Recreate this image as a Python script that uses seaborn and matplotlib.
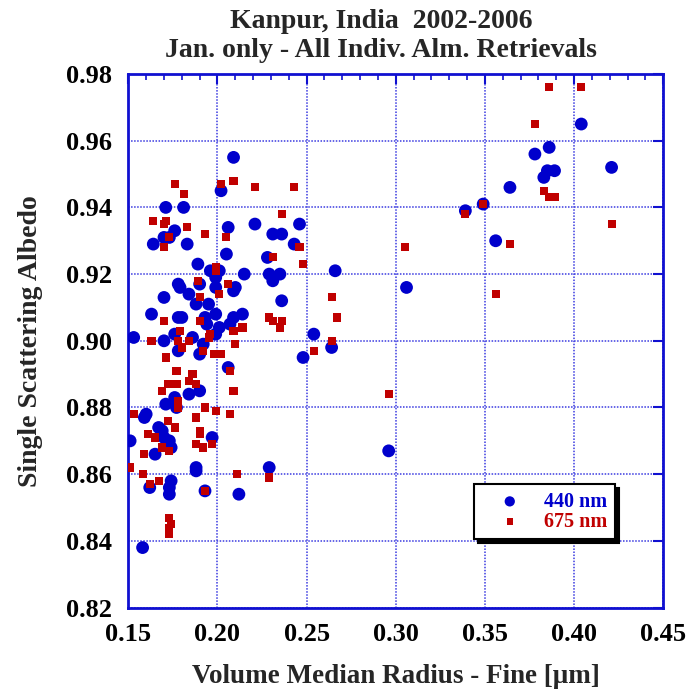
import matplotlib
matplotlib.use("Agg")
import matplotlib.pyplot as plt
import seaborn as sns
import pandas as pd
from matplotlib.ticker import MultipleLocator, FormatStrFormatter

# ---- data ----
blue_x = [0.404,0.386,0.378,0.421,0.385,0.389,0.383,0.364,0.349,0.339,0.356,0.266,0.306,0.236,0.254,0.264,
          0.248,0.296,0.246,0.236,0.243,0.209,0.202,0.171,0.181,0.176,0.206,0.221,0.231,0.170,0.173,0.164,
          0.183,0.205,0.228,0.189,0.196,0.201,0.215,0.229,0.235,0.231,0.178,0.179,0.190,0.199,0.199,0.210,
          0.209,0.184,0.170,0.188,0.195,0.163,0.178,0.180,0.193,0.199,0.214,0.209,0.194,0.201,0.207,0.176,
          0.199,0.186,0.153,0.170,0.192,0.178,0.190,0.206,0.184,0.190,0.176,0.171,0.177,0.160,0.159,0.167,
          0.169,0.151,0.197,0.170,0.173,0.172,0.174,0.165,0.229,0.188,0.188,0.174,0.162,0.173,0.193,0.212,
          0.173,0.158]
blue_y = [0.965,0.958,0.956,0.952,0.951,0.951,0.949,0.946,0.941,0.939,0.930,0.921,0.916,0.912,0.902,0.898,
          0.895,0.867,0.935,0.932,0.929,0.955,0.945,0.940,0.940,0.933,0.934,0.935,0.932,0.931,0.931,0.929,
          0.929,0.926,0.925,0.923,0.921,0.921,0.920,0.920,0.920,0.918,0.917,0.916,0.917,0.919,0.916,0.916,
          0.915,0.914,0.913,0.911,0.911,0.908,0.907,0.907,0.907,0.908,0.908,0.907,0.905,0.904,0.905,0.902,
          0.902,0.901,0.901,0.900,0.899,0.897,0.896,0.892,0.884,0.885,0.883,0.881,0.880,0.878,0.877,0.874,
          0.873,0.870,0.871,0.871,0.870,0.870,0.868,0.866,0.862,0.862,0.861,0.858,0.856,0.856,0.855,0.854,
          0.854,0.838]
red_x = [0.386,0.404,0.378,0.383,0.386,0.389,0.349,0.339,0.421,0.364,0.356,0.248,0.264,0.267,0.236,0.264,
         0.254,0.296,0.243,0.236,0.246,0.305,0.176,0.202,0.209,0.221,0.181,0.164,0.171,0.170,0.183,0.193,
         0.173,0.205,0.170,0.231,0.199,0.199,0.189,0.206,0.190,0.201,0.170,0.190,0.229,0.231,0.235,0.179,
         0.209,0.214,0.196,0.195,0.184,0.163,0.178,0.180,0.210,0.192,0.198,0.202,0.171,0.207,0.177,0.186,
         0.184,0.172,0.177,0.188,0.169,0.209,0.178,0.178,0.193,0.199,0.207,0.153,0.188,0.172,0.176,0.190,
         0.190,0.161,0.165,0.188,0.197,0.192,0.169,0.173,0.159,0.151,0.211,0.158,0.229,0.167,0.162,0.193,
         0.173,0.174,0.173,0.173]
red_y = [0.976,0.976,0.965,0.945,0.943,0.943,0.941,0.938,0.935,0.929,0.914,0.923,0.913,0.907,0.906,0.900,
         0.897,0.884,0.946,0.938,0.928,0.928,0.947,0.947,0.948,0.946,0.944,0.936,0.936,0.935,0.934,0.932,
         0.931,0.931,0.928,0.925,0.922,0.921,0.918,0.917,0.913,0.914,0.906,0.906,0.907,0.906,0.904,0.903,
         0.903,0.904,0.902,0.901,0.900,0.900,0.900,0.898,0.899,0.897,0.896,0.896,0.895,0.891,0.891,0.890,
         0.888,0.887,0.887,0.887,0.885,0.885,0.882,0.880,0.880,0.879,0.878,0.878,0.877,0.876,0.874,0.873,
         0.872,0.872,0.871,0.869,0.869,0.868,0.868,0.867,0.866,0.862,0.860,0.860,0.859,0.858,0.857,0.855,
         0.847,0.845,0.844,0.842]
series_labels = ["440 nm", "675 nm"]
title_lines = ["Kanpur, India  2002-2006", "Jan. only - All Indiv. Alm. Retrievals"]
x_label = "Volume Median Radius - Fine [\u03bcm]"
y_label = "Single Scattering Albedo"

BLUE = "#0000CC"
RED = "#C00000"
AXBLUE = "#1010D0"

df_b = pd.DataFrame({"r": blue_x, "ssa": blue_y})
df_r = pd.DataFrame({"r": red_x, "ssa": red_y})

sns.set_style("white")
plt.rcParams["font.family"] = ["Liberation Serif", "DejaVu Serif"]

fig = plt.figure(figsize=(6.87, 6.91), dpi=100)
ax = fig.add_axes([0.1868, 0.1207, 0.9655 - 0.1868, 0.8929 - 0.1207])

sns.scatterplot(data=df_b, x="r", y="ssa", ax=ax, color=BLUE, marker="o", s=85,
                edgecolor="none", linewidth=0, label=series_labels[0], zorder=3)
sns.scatterplot(data=df_r, x="r", y="ssa", ax=ax, color=RED, marker="s", s=34,
                edgecolor="none", linewidth=0, label=series_labels[1], zorder=4)

ax.set_xlim(0.15, 0.45)
ax.set_ylim(0.82, 0.98)
ax.xaxis.set_major_locator(MultipleLocator(0.05))
ax.xaxis.set_minor_locator(MultipleLocator(0.01))
ax.yaxis.set_major_locator(MultipleLocator(0.02))
ax.xaxis.set_major_formatter(FormatStrFormatter("%.2f"))
ax.yaxis.set_major_formatter(FormatStrFormatter("%.2f"))

ax.grid(True, which="major", color="#3a3ae0", linestyle=(0, (1, 1)), linewidth=1.1)
ax.set_axisbelow(True)
for sp in ax.spines.values():
    sp.set_color(AXBLUE)
    sp.set_linewidth(2)
ax.tick_params(which="both", direction="in", colors=AXBLUE, top=True, right=True,
               labelcolor="black", labelsize=19)
ax.tick_params(which="major", length=7, width=1.5)
ax.tick_params(which="minor", length=4, width=1.2)
for lab in ax.get_xticklabels() + ax.get_yticklabels():
    lab.set_fontweight("bold")
ax.tick_params(axis="x", pad=11)
ax.tick_params(axis="y", pad=12)

ax.set_xlabel(x_label, fontsize=19.5, fontweight="bold", labelpad=13)
ax.set_ylabel(y_label, fontsize=20, fontweight="bold", labelpad=16)

fig.text(0.555, 0.9695, title_lines[0], ha="center", va="center", fontsize=20, fontweight="bold")
fig.text(0.555, 0.9275, title_lines[1], ha="center", va="center", fontsize=20, fontweight="bold")

leg = ax.legend(loc="upper left", bbox_to_anchor=(0.646, 0.2316),
                frameon=True, fancybox=False,
                shadow={"color": "black", "alpha": 1, "ox": 3, "oy": -3},
                edgecolor="black", borderpad=0.38, labelspacing=0.0, handlelength=2.8,
                handletextpad=0.3, markerscale=0.8, prop={"weight": "bold", "size": 14.5},
                labelcolor="markerfacecolor", borderaxespad=0)
leg.get_frame().set_linewidth(1.5)

fig.savefig("out.png", dpi=100)
